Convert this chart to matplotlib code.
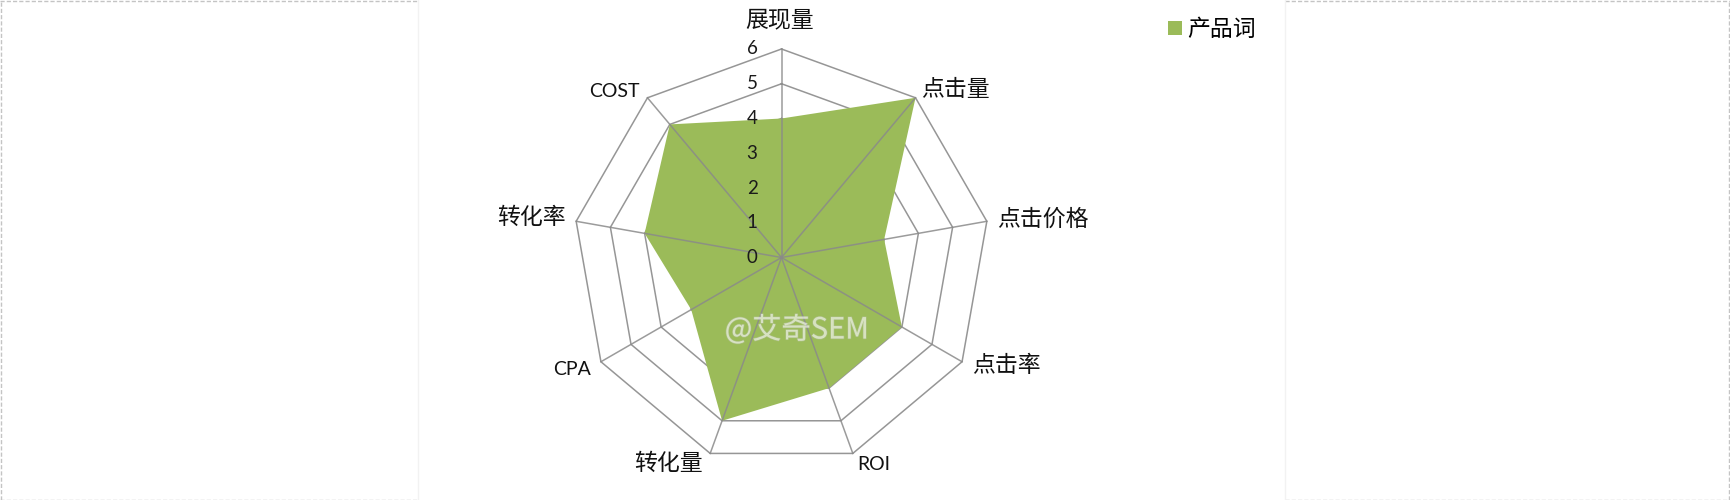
import numpy as np
import matplotlib
matplotlib.use("Agg")
import matplotlib.pyplot as plt
import matplotlib.patheffects as pe
from matplotlib.patches import Patch
from matplotlib.lines import Line2D

plt.rcParams['font.family'] = ['Noto Sans CJK SC', 'DejaVu Sans']

# Chart data
categories = ['展现量', '点击量', '点击价格', '点击率', 'ROI', '转化量', 'CPA', '转化率', 'COST']
values = [4, 6, 3, 4, 4, 5, 3, 4, 5]
series_name = '产品词'
ticks = [0, 1, 2, 3, 4, 5, 6]

GREEN = '#9BBB59'
GRID = '#969696'

W, H = 1730, 500
cx, cy = 781.5, 257.5      # centre of radar in pixels
scale = 34.75              # pixels per unit

fig = plt.figure(figsize=(W / 100, H / 100), dpi=100)
ax = fig.add_axes([0, 0, 1, 1])
ax.set_xlim(-cx / scale, (W - cx) / scale)
ax.set_ylim(-(H - cy) / scale, cy / scale)
ax.axis('off')

n = len(categories)
angles = np.arange(n) * 2 * np.pi / n   # clockwise from top


def to_xy(r, a):
    return np.asarray(r) * np.sin(a), np.asarray(r) * np.cos(a)


rmax = max(ticks)
a_closed = np.append(angles, angles[0])

# rings
for t in ticks[1:]:
    x, y = to_xy(np.full(n + 1, t), a_closed)
    ax.plot(x, y, color=GRID, lw=1.1, zorder=1)

# filled series
v_closed = np.append(values, values[0])
x, y = to_xy(v_closed, a_closed)
ax.fill(x, y, color=GREEN, lw=0, zorder=2)

# spokes on top of the fill
for a in angles:
    x, y = to_xy([0, rmax], [a, a])
    ax.plot(x, y, color='#8a8a8a', lw=1.1, alpha=0.85, zorder=3)

# tick labels along the top axis
for t in ticks:
    ax.annotate(str(t), (0, t), xytext=(-24, 0), textcoords='offset pixels',
                ha='right', va='center', fontsize=13.5, family='Lato', color='#1a1a1a', zorder=4)

# category labels
offsets = [(-2, 29), (6, 8), (10, 2), (10, -4), (4, -11), (-7, -10), (-10, -8), (-10, 4), (-8, 6)]
for cat, a, off in zip(categories, angles, offsets):
    s = np.sin(a)
    ha = 'center' if abs(s) < 0.1 else ('left' if s > 0 else 'right')
    latin = cat.isascii()
    ax.annotate(cat, to_xy(rmax, a), xytext=off, textcoords='offset pixels',
                ha=ha, va='center', fontsize=14 if latin else 16.5,
                family='Lato' if latin else ['Noto Sans CJK SC', 'DejaVu Sans'],
                color='#111111', zorder=4)

# watermark
ax.text(0.44, -2.1, '@艾奇SEM', ha='center', va='center', fontsize=21, color='white', alpha=0.4,
        zorder=5, path_effects=[pe.withStroke(linewidth=1.0, foreground='#c8c8c8', alpha=0.35)])

# legend
fig.legend(handles=[Patch(facecolor=GREEN, edgecolor='none', label=series_name)],
           loc='upper left', bbox_to_anchor=(1168 / W, 1 - 18 / H), frameon=False,
           fontsize=16.5, handlelength=0.6, handleheight=0.6, handletextpad=0.25,
           borderpad=0, borderaxespad=0)

# page edges of the screenshot
dash = dict(color='#c4c4c4', lw=1, ls=(0, (3, 1.5)), transform=fig.transFigure)
for x0, x1 in [(0, 418 / W), (1285 / W, 1)]:
    fig.add_artist(Line2D([x0, x1], [0.999, 0.999], **dash))
    fig.add_artist(Line2D([x0, x1], [0.001, 0.001], **dash))
fig.add_artist(Line2D([0.0005, 0.0005], [0, 1], **dash))
fig.add_artist(Line2D([0.9995, 0.9995], [0, 1], **dash))
for xv in [418 / W, 1285 / W]:
    fig.add_artist(Line2D([xv, xv], [0, 1], color='#f2f2f2', lw=1, transform=fig.transFigure))

fig.savefig('out.png', dpi=100, facecolor='white')
